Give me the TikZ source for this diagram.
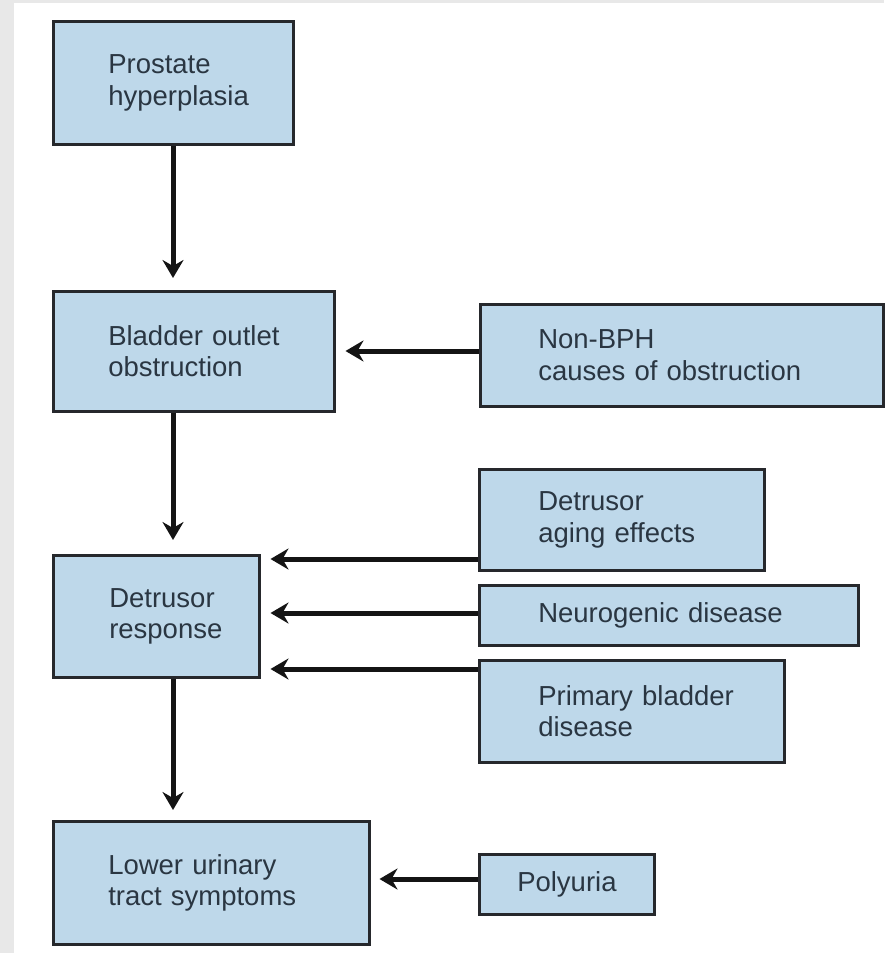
\documentclass[tikz,border=0pt]{standalone}
\usepackage{fontspec}
\setmainfont{Liberation Sans}
\usetikzlibrary{arrows.meta}
\definecolor{boxfill}{RGB}{190,216,234}
\definecolor{boxline}{RGB}{38,40,44}
\definecolor{txt}{RGB}{42,54,66}
\definecolor{band}{RGB}{232,232,232}
\begin{document}
\begin{tikzpicture}[x=1pt,y=-1pt,
  box/.style={draw=boxline, fill=boxfill, line width=2.5pt, text=txt,
    align=left, inner ysep=0pt, anchor=north west,
    font=\fontsize{27.5}{31.5}\selectfont},
  arr/.style={line width=5pt, draw=black!92,
    -{Stealth[length=18pt,width=21pt,inset=6pt]}}]
\useasboundingbox (0,0) rectangle (884,953);
\fill[white] (0,0) rectangle (884,953);
\fill[band] (0,0) rectangle (14,953);
\fill[band] (0,0) rectangle (884,3);

% main column
\node[box, inner xsep=55pt, text width=130pt, minimum height=123pt] (b1) at (52,20)
  {\mbox{Prostate}\\\mbox{hyperplasia}};
\node[box, inner xsep=55pt, text width=171pt, minimum height=120pt] (b2) at (52,290)
  {\mbox{Bladder outlet}\\\mbox{obstruction}};
\node[box, inner xsep=56pt, text width=94pt, minimum height=122pt] (b3) at (52,554)
  {\mbox{Detrusor}\\\mbox{response}};
\node[box, inner xsep=55pt, text width=206pt, minimum height=123pt] (b4) at (52,820)
  {\mbox{Lower urinary}\\\mbox{tract symptoms}};

% side boxes
\node[box, inner xsep=58pt, text width=287pt, minimum height=102pt] (nb) at (479,303)
  {\mbox{Non-BPH}\\\mbox{causes of obstruction}};
\node[box, inner xsep=59pt, text width=167pt, minimum height=101pt] (ag) at (478,468)
  {\mbox{Detrusor}\\\mbox{aging effects}};
\node[box, inner xsep=59pt, text width=261pt, minimum height=60pt] (ng) at (478,584)
  {\mbox{Neurogenic disease}};
\node[box, inner xsep=59pt, text width=187pt, minimum height=102pt] (pb) at (478,659)
  {\mbox{Primary bladder}\\\mbox{disease}};
\node[box, inner xsep=38pt, text width=99pt, minimum height=60pt] (po) at (478,853)
  {\mbox{Polyuria}};

% helper coordinates
\coordinate (col) at (173,0);
\coordinate (ynb) at (0,351);
\coordinate (yag) at (0,559);
\coordinate (yng) at (0,613);
\coordinate (ypb) at (0,669);
\coordinate (ypo) at (0,879);

% vertical arrows
\draw[arr, shorten >=12pt] (b1.south -| col) -- (b2.north -| col);
\draw[arr, shorten >=14pt] (b2.south -| col) -- (b3.north -| col);
\draw[arr, shorten >=10pt] (b3.south -| col) -- (b4.north -| col);

% horizontal arrows
\draw[arr, shorten >=10pt] (nb.west |- ynb) -- (b2.east |- ynb);
\draw[arr, shorten >=10pt] (ag.west |- yag) -- (b3.east |- yag);
\draw[arr, shorten >=10pt] (ng.west |- yng) -- (b3.east |- yng);
\draw[arr, shorten >=10pt] (pb.west |- ypb) -- (b3.east |- ypb);
\draw[arr, shorten >=9pt] (po.west |- ypo) -- (b4.east |- ypo);
\end{tikzpicture}
\end{document}
